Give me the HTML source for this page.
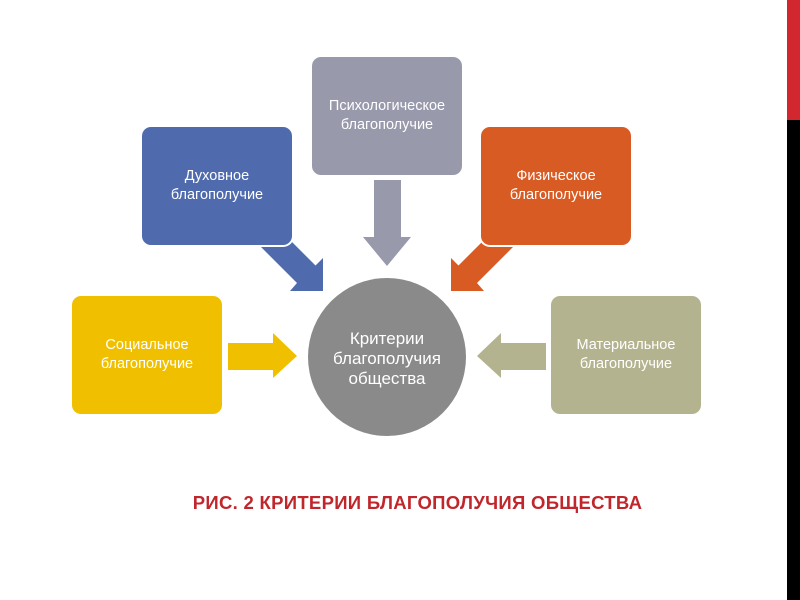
<!DOCTYPE html>
<html><head><meta charset="utf-8"><style>
body{margin:0;width:800px;height:600px;background:#fff;position:relative;overflow:hidden;font-family:"Liberation Sans",sans-serif}
.b{position:absolute;width:150px;height:118px;border-radius:9px;color:#fff;display:flex;align-items:center;justify-content:center;text-align:center;font-size:14.5px;line-height:19px;box-shadow:0 0 0 2px #fff}
</style></head><body>
<div style="position:absolute;left:787px;top:0;width:13px;height:120px;background:#d2272f"></div>
<div style="position:absolute;left:787px;top:120px;width:13px;height:480px;background:#000"></div>
<svg width="800" height="600" style="position:absolute;left:0;top:0">
<polygon points="374,180 401,180 401,237 411,237 387,266 363,237 374,237" fill="#9899ab"/>
<polygon points="228,343 273,343 273,333 297,356 273,378 273,370 228,370" fill="#f0c000"/>
<polygon points="546,343 501,343 501,333 477,356 501,378 501,370 546,370" fill="#b4b38f"/>
<polygon points="280,230 315.5,265.5 323,258 323,291 290,291 297,283 252,238" fill="#4f6bae"/>
<polygon points="494,230 458.5,265.5 451,258 451,291 484,291 477,283 522,238" fill="#d95b24"/>
<circle cx="387" cy="357" r="79" fill="#8a8a8a"/>
</svg>
<div class="b" style="left:142px;top:127px;background:#4f6bae">Духовное<br>благополучие</div>
<div class="b" style="left:312px;top:57px;height:118px;background:#9899ab;align-items:flex-start;padding-top:40px;box-sizing:border-box">Психологическое<br>благополучие</div>
<div class="b" style="left:481px;top:127px;background:#d95b24">Физическое<br>благополучие</div>
<div class="b" style="left:72px;top:296px;background:#f0c000">Социальное<br>благополучие</div>
<div class="b" style="left:551px;top:296px;background:#b4b38f">Материальное<br>благополучие</div>
<div style="position:absolute;left:308px;top:329px;width:158px;text-align:center;color:#fff;font-size:17px;line-height:20px">Критерии<br>благополучия<br>общества</div>
<div style="position:absolute;left:130px;top:492px;width:575px;text-align:center;color:#c0272d;font-weight:bold;font-size:18.5px;letter-spacing:0.3px">РИС. 2 КРИТЕРИИ БЛАГОПОЛУЧИЯ ОБЩЕСТВА</div>
</body></html>
